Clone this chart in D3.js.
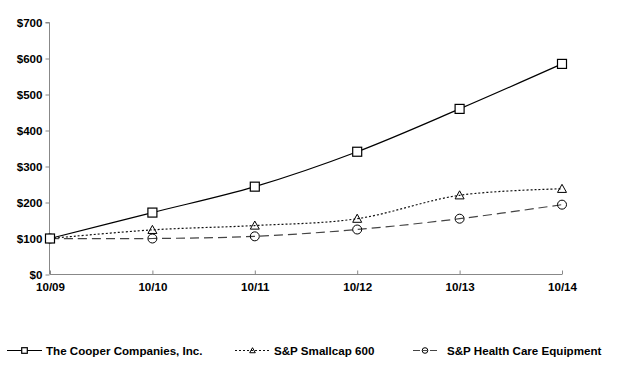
<!DOCTYPE html>
<html>
<head>
<meta charset="utf-8">
<script src="https://cdn.jsdelivr.net/npm/d3@7"></script>
<style>
body { margin: 0; background: #fff; }
text { font-family: "Liberation Sans", Arial, sans-serif; font-weight: bold; font-size: 11.6px; fill: #000; }
</style>
</head>
<body>
<div id="container"></div>
<script>
var periods = ["10/09", "10/10", "10/11", "10/12", "10/13", "10/14"];
var cooper = [100, 172, 244, 341, 460, 585];
var smallcap = [100, 124, 136, 155, 220, 238];
var healthCare = [100, 100, 106, 125, 155, 194];
var yTicks = [0, 100, 200, 300, 400, 500, 600, 700];

var series = [
    { name: "The Cooper Companies, Inc.", values: cooper, dash: null, color: "#000", marker: "square" },
    { name: "S&P Smallcap 600", values: smallcap, dash: "2,2", color: "#111", marker: "triangle" },
    { name: "S&P Health Care Equipment", values: healthCare, dash: "9,5", color: "#444", marker: "circle" }
];

var width = 632, height = 377;

const svg = d3.select("div#container").append("svg")
    .attr("width", width)
    .attr("height", height);

const x = d3.scalePoint().domain(periods).range([50, 562]);
const y = d3.scaleLinear().domain([0, 700]).range([274.5, 22.5]);

// axes
const yAxis = svg.append("g")
    .attr("transform", "translate(49.5,0)")
    .call(d3.axisLeft(y).tickValues(yTicks).tickSize(4).tickFormat(d => "$" + d));
yAxis.select(".domain").attr("stroke", "#888").attr("d", "M-4," + y(700) + "H0V" + y(0));
yAxis.selectAll(".tick line").attr("stroke", "#888");
yAxis.selectAll(".tick text").attr("x", -7).attr("dy", "0.35em");

const xAxis = svg.append("g")
    .attr("transform", "translate(0," + (y(0) + 0) + ")")
    .call(d3.axisBottom(x).tickSize(4).tickSizeOuter(0));
xAxis.select(".domain").attr("stroke", "#888").attr("d", "M" + x("10/09") + ",0H" + x("10/14"));
xAxis.selectAll(".tick line").attr("stroke", "#888").attr("y2", -4);
xAxis.selectAll(".tick text").attr("y", 8).attr("dy", "0.71em");

const line = d3.line()
    .x((d, i) => x(periods[i]))
    .y(d => y(d))
    .curve(d3.curveCatmullRom.alpha(0));

function drawMarker(g, type, cx, cy, s) {
    if (type === "square") {
        g.append("rect").attr("x", cx - s).attr("y", cy - s).attr("width", 2 * s).attr("height", 2 * s)
            .attr("fill", "#fff").attr("stroke", "#000").attr("stroke-width", 1.2);
    } else if (type === "triangle") {
        g.append("path")
            .attr("d", "M" + cx + "," + (cy - s) + "L" + (cx + s) + "," + (cy + s * 0.8) + "L" + (cx - s) + "," + (cy + s * 0.8) + "Z")
            .attr("fill", "none").attr("stroke", "#000").attr("stroke-width", 1);
    } else {
        g.append("circle").attr("cx", cx).attr("cy", cy).attr("r", s)
            .attr("fill", "none").attr("stroke", "#000").attr("stroke-width", 1);
    }
}

// draw back to front so cooper is on top
series.slice().reverse().forEach(function (s) {
    svg.append("path")
        .datum(s.values)
        .attr("d", line)
        .attr("fill", "none")
        .attr("stroke", s.color)
        .attr("stroke-width", 1.2)
        .attr("stroke-dasharray", s.dash);
    const mg = svg.append("g");
    s.values.forEach(function (v, i) {
        drawMarker(mg, s.marker, x(periods[i]), y(v), 4.5);
    });
});

// legend
var legendX = [7, 235, 413];
var legendW = [35, 35, 24];
const legend = svg.append("g");
series.forEach(function (s, i) {
    var lx = legendX[i], ly = 350.5;
    legend.append("line")
        .attr("x1", lx).attr("x2", lx + legendW[i])
        .attr("y1", ly).attr("y2", ly)
        .attr("stroke", s.color)
        .attr("stroke-width", 1.2)
        .attr("stroke-dasharray", s.dash === "9,5" ? "7,10" : s.dash);
    drawMarker(legend, s.marker, lx + legendW[i] / 2, ly, 2.8);
    if (s.marker === "circle") {
        legend.append("line")
            .attr("x1", lx + legendW[i] / 2 - 2.8).attr("x2", lx + legendW[i] / 2 + 2.8)
            .attr("y1", ly).attr("y2", ly)
            .attr("stroke", s.color).attr("stroke-width", 1);
    }
    legend.append("text")
        .attr("x", lx + legendW[i] + (i === 2 ? 10 : 4))
        .attr("y", ly)
        .attr("dy", "0.35em")
        .text(s.name);
});
</script>
</body>
</html>
